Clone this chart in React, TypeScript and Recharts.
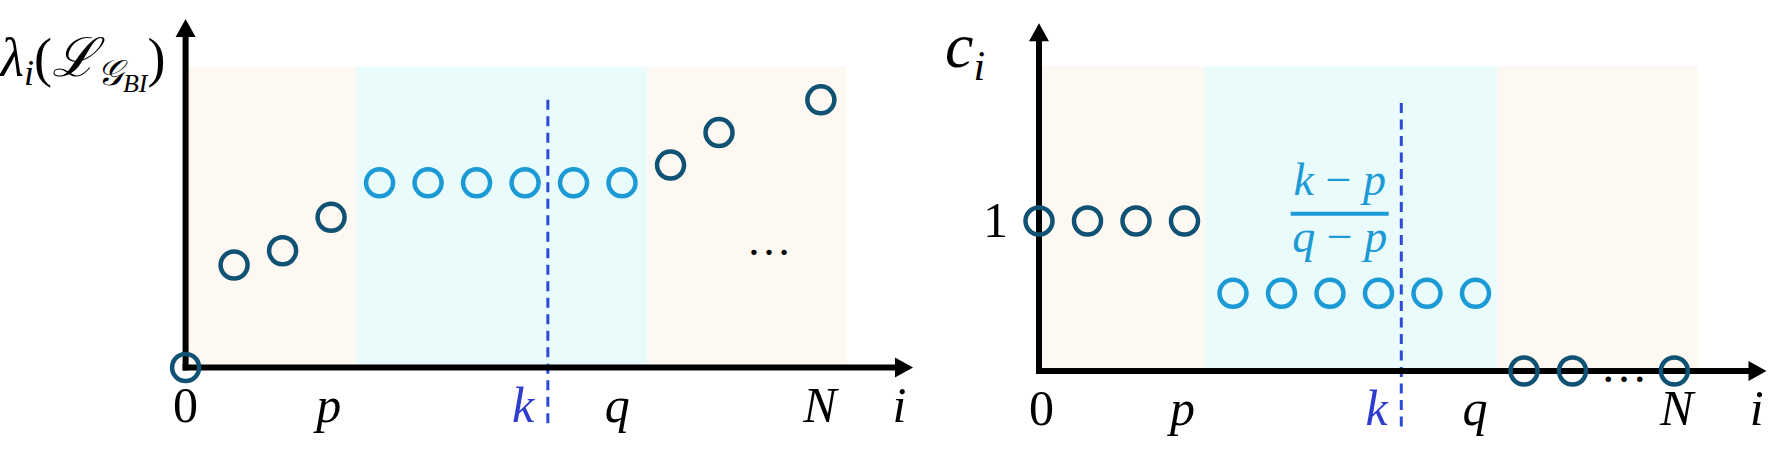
import React from 'react';
import { ScatterChart, Scatter, XAxis, YAxis, ReferenceArea, ReferenceLine, ReferenceDot } from 'recharts';

// --- linkes Bild: Eigenwerte lambda_i ---
const leftDarkX = [0, 1, 2, 3, 10, 11, 13.1];
const leftDarkY = [0, 2.94, 3.35, 4.31, 5.81, 6.74, 7.68];
const leftCyanX = [4, 5, 6, 7, 8, 9];
const leftCyanY = [5.3, 5.3, 5.3, 5.3, 5.3, 5.3];
const leftTicks = [0, 2.95, 6.96, 8.9, 13.08, 14.72];
const leftBandEdges = [0, 3.52, 9.52, 13.64];
const leftBandTop = 8.63;
const leftKLineX = 7.47;
const leftKLineY = [7.68, -1.65];
const leftDotsAt = [12.03, 3.32];
const leftYMax = 10;

// --- rechtes Bild: Koeffizienten c_i ---
const rightDarkX = [0, 1, 2, 3, 10, 11, 13.1];
const rightDarkY = [1, 1, 1, 1, 0, 0, 0];
const rightCyanX = [4, 5, 6, 7, 8, 9];
const rightCyanY = [0.518, 0.518, 0.518, 0.518, 0.518, 0.518];
const rightTicks = [0.05, 2.96, 6.96, 8.99, 13.15, 14.8];
const rightYTicks = [1];
const rightBandEdges = [0, 3.42, 9.45, 13.59];
const rightBandTop = 2.03;
const rightKLineX = 7.47;
const rightKLineY = [1.787, -0.393];
const rightDotsAt = [12.06, -0.055];
const fractionAt = [6.2, 1.049];
const rightYMax = 2.318;

const tickLabels = ['0', 'p', 'k', 'q', 'N', 'i'];
const X_MAX = 15;

const SERIF = "'Liberation Serif', 'DejaVu Serif', serif";
const DARK = '#0f5273';
const CYAN = '#1c9ad6';
const BEIGE_BG = '#fdf8f1';
const CYAN_BG = '#eafbfb';
const DASH_BLUE = '#2a4ad8';
const K_BLUE = '#2e3cd0';
const bandColors = [BEIGE_BG, CYAN_BG, BEIGE_BG];

const toPoints = (xs: number[], ys: number[]) => xs.map((x, i) => ({ x, y: ys[i] }));

const ring = (color: string) => (p: any) => (
    <circle cx={p.cx} cy={p.cy} r={13.5} fill="none" stroke={color} strokeWidth={4.5} />
);

// Achse mit Pfeilspitze
const Arrow = (p: any) => {
    const { x1, y1, x2, y2 } = p;
    const len = Math.hypot(x2 - x1, y2 - y1) || 1;
    const ux = (x2 - x1) / len;
    const uy = (y2 - y1) / len;
    const L = 18, H = 10;
    const bx = x2 - ux * L;
    const by = y2 - uy * L;
    return (
        <g>
            <line x1={x1} y1={y1} x2={bx} y2={by} stroke="#000" strokeWidth={6} strokeLinecap="square" />
            <polygon points={`${x2},${y2} ${bx - uy * H},${by + ux * H} ${bx + uy * H},${by - ux * H}`} fill="#000" />
        </g>
    );
};

const makeXTick = (ticks: number[]) => (p: any) => {
    const idx = ticks.indexOf(p.payload.value);
    const label = tickLabels[idx] ?? '';
    return (
        <text
            x={p.x}
            y={p.y + 46}
            textAnchor="middle"
            fontFamily={SERIF}
            fontSize={50}
            fontStyle={idx === 0 ? 'normal' : 'italic'}
            fill={label === 'k' ? K_BLUE : '#000'}
        >
            {label}
        </text>
    );
};

const RightYTick = (p: any) => (
    <text x={p.x - 23} y={p.y + 16} textAnchor="end" fontFamily={SERIF} fontSize={50} fill="#000">
        {p.payload.value}
    </text>
);

const LambdaLabel = (p: any) => (
    <text x={p.cx - 185} y={p.cy + 57} fontFamily={SERIF} fontSize={54} fill="#000">
        <tspan fontStyle="italic">λ</tspan>
        <tspan fontStyle="italic" fontSize={36} dy={9}>i</tspan>
        <tspan dy={-9}>(</tspan>
        <tspan fontStyle="italic">ℒ</tspan>
        <tspan fontStyle="italic" fontSize={36} dy={9}>𝒢</tspan>
        <tspan fontStyle="italic" fontSize={26} dy={7}>BI</tspan>
        <tspan dy={-16}>)</tspan>
    </text>
);

const CLabel = (p: any) => (
    <text x={p.cx - 94} y={p.cy + 44} fontFamily={SERIF} fontSize={64} fill="#000">
        <tspan fontStyle="italic">c</tspan>
        <tspan fontStyle="italic" fontSize={42} dy={13}>i</tspan>
    </text>
);

const Fraction = (p: any) => (
    <g fill={CYAN}>
        <text x={p.cx} y={p.cy - 19} textAnchor="middle" fontFamily={SERIF} fontSize={46}>
            <tspan fontStyle="italic">k</tspan>
            <tspan> − </tspan>
            <tspan fontStyle="italic">p</tspan>
        </text>
        <line x1={p.cx - 49} y1={p.cy} x2={p.cx + 49} y2={p.cy} stroke={CYAN} strokeWidth={4} />
        <text x={p.cx} y={p.cy + 38} textAnchor="middle" fontFamily={SERIF} fontSize={46}>
            <tspan fontStyle="italic">q</tspan>
            <tspan> − </tspan>
            <tspan fontStyle="italic">p</tspan>
        </text>
    </g>
);

const Dots = (size: number) => (p: any) => (
    <text x={p.cx} y={p.cy + 3} textAnchor="middle" fontFamily={SERIF} fontSize={size} fill="#000">…</text>
);

const axisLines = (yMax: number) => [
    <ReferenceLine key="ax-x" segment={[{ x: 0, y: 0 }, { x: X_MAX, y: 0 }]} ifOverflow="visible" shape={Arrow} />,
    <ReferenceLine key="ax-y" segment={[{ x: 0, y: 0 }, { x: 0, y: yMax }]} ifOverflow="visible" shape={Arrow} />,
];

const bands = (edges: number[], top: number) =>
    bandColors.map((c, i) => (
        <ReferenceArea
            key={`band-${i}`}
            x1={edges[i]}
            x2={edges[i + 1]}
            y1={0}
            y2={top}
            fill={c}
            fillOpacity={1}
            stroke="none"
            ifOverflow="visible"
        />
    ));

export default function App() {
    return (
        <div style={{ position: 'absolute', left: 0, top: 0, width: 1786, height: 449, background: '#fff' }}>
            <div style={{ position: 'absolute', left: 0, top: 0 }}>
                <ScatterChart width={930} height={449} margin={{ top: 19, right: 17, bottom: 0, left: 0 }}>
                    <XAxis
                        type="number"
                        dataKey="x"
                        domain={[0, X_MAX]}
                        ticks={leftTicks}
                        interval={0}
                        height={81.5}
                        axisLine={false}
                        tickLine={false}
                        tick={makeXTick(leftTicks)}
                    />
                    <YAxis type="number" dataKey="y" domain={[0, leftYMax]} width={185.6} axisLine={false} tickLine={false} tick={false} />
                    {bands(leftBandEdges, leftBandTop)}
                    <ReferenceLine
                        segment={[{ x: leftKLineX, y: leftKLineY[0] }, { x: leftKLineX, y: leftKLineY[1] }]}
                        stroke={DASH_BLUE}
                        strokeWidth={3}
                        strokeDasharray="10 6.5"
                        ifOverflow="visible"
                    />
                    {axisLines(leftYMax)}
                    <Scatter data={toPoints(leftDarkX, leftDarkY)} shape={ring(DARK)} isAnimationActive={false} />
                    <Scatter data={toPoints(leftCyanX, leftCyanY)} shape={ring(CYAN)} isAnimationActive={false} />
                    <ReferenceDot x={leftDotsAt[0]} y={leftDotsAt[1]} r={0} ifOverflow="visible" shape={Dots(45)} />
                    <ReferenceDot x={0} y={leftYMax} r={0} ifOverflow="visible" shape={LambdaLabel} />
                </ScatterChart>
            </div>
            <div style={{ position: 'absolute', left: 930, top: 0 }}>
                <ScatterChart width={856} height={449} margin={{ top: 23.3, right: 19.5, bottom: 0, left: 0 }}>
                    <XAxis
                        type="number"
                        dataKey="x"
                        domain={[0, X_MAX]}
                        ticks={rightTicks}
                        interval={0}
                        height={78}
                        axisLine={false}
                        tickLine={false}
                        tick={makeXTick(rightTicks)}
                    />
                    <YAxis
                        type="number"
                        dataKey="y"
                        domain={[0, rightYMax]}
                        ticks={rightYTicks}
                        interval={0}
                        width={109}
                        axisLine={false}
                        tickLine={false}
                        tick={RightYTick}
                    />
                    {bands(rightBandEdges, rightBandTop)}
                    <ReferenceLine
                        segment={[{ x: rightKLineX, y: rightKLineY[0] }, { x: rightKLineX, y: rightKLineY[1] }]}
                        stroke={DASH_BLUE}
                        strokeWidth={3}
                        strokeDasharray="10 6.5"
                        ifOverflow="visible"
                    />
                    {axisLines(rightYMax)}
                    <Scatter data={toPoints(rightDarkX, rightDarkY)} shape={ring(DARK)} isAnimationActive={false} />
                    <Scatter data={toPoints(rightCyanX, rightCyanY)} shape={ring(CYAN)} isAnimationActive={false} />
                    <ReferenceDot x={rightDotsAt[0]} y={rightDotsAt[1]} r={0} ifOverflow="visible" shape={Dots(47)} />
                    <ReferenceDot x={fractionAt[0]} y={fractionAt[1]} r={0} ifOverflow="visible" shape={Fraction} />
                    <ReferenceDot x={0} y={rightYMax} r={0} ifOverflow="visible" shape={CLabel} />
                </ScatterChart>
            </div>
        </div>
    );
}
